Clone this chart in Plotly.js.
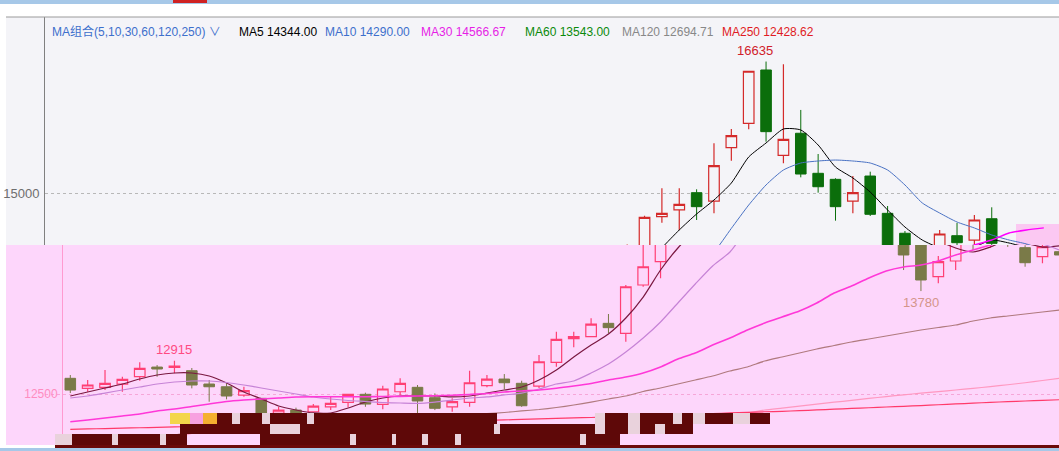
<!DOCTYPE html>
<html>
<head>
<meta charset="utf-8">
<script src="https://cdn.plot.ly/plotly-3.0.1.min.js"></script>
<style>html,body{margin:0;padding:0;background:#fff;}#chart{width:1059px;height:451px;}</style>
</head>
<body>
<div id="chart"></div>
<script>
// ---- data ----
const idx = [0,1,2,3,4,5,6,7,8,9,10,11,12,13,14,15,16,17,18,19,20,21,22,23,24,25,26,27,28,29,30,31,32,33,34,35,36,37,38,39,40,41,42,43,44,45,46,47,48,49,50,51,52,53,54,55,56,57];
const openV  = [12695,12570,12583,12624,12715,12835,12832,12790,12624,12590,12487,12446,12260,12300,12279,12341,12396,12496,12371,12528,12583,12454,12341,12396,12603,12686,12633,12599,12894,13188,13213,13379,13255,13856,14146,14705,14789,15004,14900,15564,15867,16530,15469,15743,15245,15170,14900,15211,14747,14499,13961,14154,14469,14415,14680,14320,14208,14270];
const highV  = [12736,12674,12798,12715,12895,12860,12915,12823,12674,12633,12590,12450,12340,12330,12375,12475,12500,12516,12603,12695,12612,12508,12446,12790,12736,12748,12665,12985,13275,13275,13441,13495,13856,14360,14718,15058,15058,15046,15618,15796,16518,16635,16600,16033,15485,15183,15211,15265,14838,14527,14216,14540,14627,14726,14822,14350,14360,14300];
const lowV   = [12512,12528,12549,12528,12665,12715,12757,12570,12404,12434,12466,12217,12180,12200,12270,12300,12334,12341,12309,12487,12259,12300,12279,12341,12583,12558,12340,12574,12839,13081,13209,13255,13150,13834,13939,14631,14540,14664,14747,15402,15792,15638,15369,15195,15004,14656,14747,14714,14042,13780,13877,14042,14291,14316,14330,14083,14125,14200];
const closeV = [12549,12612,12633,12683,12819,12811,12848,12612,12590,12475,12541,12259,12300,12240,12350,12384,12496,12375,12562,12633,12413,12322,12404,12640,12686,12640,12354,12901,13180,13213,13370,13325,13834,14083,14698,14747,14859,14830,15340,15713,16514,15763,15668,15236,15078,14830,15004,14735,14229,13918,14146,14490,14382,14664,14374,14133,14333,14229];

const ma5   = [12475,12525,12575,12624,12687,12736,12761,12761,12724,12637,12525,12440,12351,12301,12264,12264,12326,12400,12450,12475,12475,12475,12463,12475,12512,12550,12587,12674,12798,12960,13109,13246,13445,13706,14042,14316,14540,14739,14913,15124,15448,15622,15796,15784,15597,15323,15187,15012,14789,14577,14415,14316,14266,14328,14415,14378,14328,14344];
const ma10  = [12450,12475,12512,12550,12587,12624,12649,12662,12662,12643,12612,12575,12537,12500,12463,12438,12419,12407,12394,12388,12384,12400,12425,12450,12463,12488,12512,12562,12624,12662,12761,12873,13022,13196,13396,13632,13868,14092,14266,14560,14850,15100,15286,15373,15398,15410,15398,15373,15286,15100,14876,14751,14639,14565,14478,14415,14366,14290];
const ma30  = [12155,12177,12201,12226,12251,12289,12313,12344,12376,12407,12425,12438,12450,12463,12466,12466,12466,12466,12469,12471,12475,12478,12484,12494,12506,12525,12537,12550,12571,12599,12631,12674,12711,12761,12836,12935,13010,13109,13196,13296,13383,13458,13532,13632,13756,13843,13943,14030,14080,14104,14154,14229,14291,14353,14415,14502,14540,14566.67];
const ma60  = [11960,11965,11970,11975,11980,11985,11990,12020,12045,12065,12085,12100,12115,12130,12145,12160,12175,12190,12200,12212,12222,12232,12241,12249,12257,12270,12289,12307,12332,12363,12400,12438,12475,12531,12575,12624,12674,12724,12786,12836,12910,12960,13010,13060,13103,13147,13184,13221,13259,13296,13327,13358,13408,13445,13470,13495,13520,13543];
const ma120 = [11930,11932,11934,11936,11938,11940,11942,12010,12015,12020,12025,12030,12035,12040,12045,12050,12055,12060,12064,12068,12072,12076,12080,12084,12088,12092,12096,12100,12104,12108,12112,12116,12120,12124,12128,12132,12140,12170,12215,12262,12301,12325,12350,12375,12398,12420,12445,12468,12490,12510,12530,12550,12570,12592,12615,12640,12668,12694.71];
const ma250 = [12061,12065,12070,12075,12080,12085,12090,12095,12100,12104,12108,12112,12117,12121,12125,12130,12135,12139,12144,12148,12152,12157,12162,12167,12172,12178,12184,12190,12196,12202,12208,12215,12222,12229,12236,12243,12250,12257,12264,12271,12279,12284,12293,12302,12311,12320,12329,12338,12347,12356,12366,12376,12386,12396,12405,12413,12421,12428.62];

const maNames  = ['MA5','MA10','MA30','MA60','MA120','MA250'];
const maSeries = [ma5, ma10, ma30, ma60, ma120, ma250];
const legendTitle = 'MA组合(5,10,30,60,120,250)';

// ---- style ----
const W = 1059, H = 451, ML = 45, MT = 17, MB = 4;
const PW = W - ML, PH = H - MT - MB;
const px = p => (p - ML) / PW;          // pixel -> paper x
const py = p => (H - MB - p) / PH;      // pixel -> paper y
const upColors  = ['#000000','#4a72c4','#ff00ff','#1a8a1a','#9a9a9a','#e80000'];
const lowColors = ['#7a1840','#c683d6','#ff38d8','#b07a7e','#ff98c0','#ff3a6a'];
const legColors = ['#000000','#3d6fcc','#e61ee6','#0a8a0a','#888888','#e01b24'];
const splitPaper = py(245);
const candleStep = 17.36;
const shiftUnits = 16 / candleStep;
const x0 = -9.3 / candleStep, x1 = x0 + PW / candleStep;

const traces = [];
traces.push({type:'candlestick', x: idx, open: openV, high: highV, low: lowV, close: closeV,
  xaxis:'x', yaxis:'y', hoverinfo:'skip', showlegend:false, whiskerwidth:0,
  increasing:{line:{color:'#d42a2a', width:1.2}, fillcolor:'#f4f4f8'},
  decreasing:{line:{color:'#0b6e0b', width:1}, fillcolor:'#0b6e0b'}});
traces.push({type:'candlestick', x: idx, open: openV, high: highV, low: lowV, close: closeV,
  xaxis:'x2', yaxis:'y2', hoverinfo:'skip', showlegend:false, whiskerwidth:0,
  increasing:{line:{color:'#ff3f74', width:1.2}, fillcolor:'#fdd6fb'},
  decreasing:{line:{color:'#7a7a48', width:1}, fillcolor:'#7a7a48'}});
maSeries.forEach((s, k) => {
  traces.push({type:'scatter', mode:'lines', x: idx, y: s, xaxis:'x', yaxis:'y',
    line:{color: upColors[k], width: k===2?1.4:1, shape:'spline', smoothing:0.6}, hoverinfo:'skip', showlegend:false});
  traces.push({type:'scatter', mode:'lines', x: idx, y: s, xaxis:'x2', yaxis:'y2',
    line:{color: lowColors[k], width: k===2?1.6:1.2, shape:'spline', smoothing:0.6}, hoverinfo:'skip', showlegend:false});
});

const yv = p => 15000 - (p - 193) * (1000 / 80.4);
const band = (a, b, top, bot, col) => ({type:'rect', xref:'paper', yref:'paper', x0:px(a), x1:px(b), y0:py(bot), y1:py(top), fillcolor: col || '#5e0808', line:{width:0}});

const shapes = [
  Object.assign(band(6, W, 17, 245, '#f4f4f8'), {layer:'below'}),
  Object.assign(band(6, W, 245, 445, '#fdd6fb'), {layer:'below'}),
  Object.assign(band(1016, W, 224, 245, '#fbc8f2'), {layer:'below'}),
  {type:'line', xref:'paper', yref:'paper', x0:px(6), x1:px(W), y0:py(17), y1:py(17), line:{color:'#9a9a9a', width:1}},
  band(0, W, -2, 4, '#a6c8e8'),
  band(173, 207, -2, 3, '#cf2222'),
  band(0, W, 448, 453, '#a6c8e8'),
  band(55, W, 445, 448, '#6a0a0a'),
  // glitch bands at the bottom
  band(217, 497, 413, 424),
  band(170, 190, 413, 424, '#f3d64a'),
  band(190, 203, 413, 424, '#f7a0e0'),
  band(203, 217, 413, 424, '#f5b030'),
  band(595, 693, 413, 424),
  band(705, 770, 413, 424),
  band(180, 693, 424, 434),
  band(55, 187, 434, 445),
  band(260, 620, 434, 445)
];
// light checker patches inside the glitch bands
[[55,72,434,445],[112,118,434,445],[160,166,434,445],[232,240,413,424],[262,270,413,424],[270,300,424,434],[307,314,413,424],[350,356,434,445],[392,396,434,445],[422,428,434,445],[455,461,434,445],[494,500,424,434],[580,586,434,445],[595,605,413,434],[628,640,413,434],[655,665,424,434],[673,682,413,424],[693,705,413,424],[733,750,413,424]].forEach(r => {
  shapes.push(band(r[0], r[1], r[2], r[3], '#e9d2dc'));
});

const font = 'Liberation Sans, Arial, Noto Sans CJK SC, sans-serif';
const annotations = [];
const legX = [50, 237, 323, 419, 523, 620, 720];
annotations.push({xref:'paper', yref:'paper', x:px(legX[0]), y:py(32), xanchor:'left', yanchor:'middle', showarrow:false,
  text: legendTitle + ' ∨', font:{family:font, size:12, color:'#3d6fcc'}});
maNames.forEach((n, k) => {
  const s = maSeries[k];
  annotations.push({xref:'paper', yref:'paper', x:px(legX[k+1]), y:py(32), xanchor:'left', yanchor:'middle', showarrow:false,
    text: n + ' ' + s[s.length-1].toFixed(2), font:{family:font, size:12, color: legColors[k]}});
});
// max / min labels
const argMax = (arr, a, b) => { let m = a; for (let i = a; i <= b; i++) if (arr[i] > arr[m]) m = i; return m; };
const argMin = (arr, a, b) => { let m = a; for (let i = a; i <= b; i++) if (arr[i] < arr[m]) m = i; return m; };
const hiIdx = argMax(highV, 30, 57);
annotations.push({xref:'x', yref:'y', x: idx[hiIdx], y: highV[hiIdx], xanchor:'center', yanchor:'bottom', yshift:2, xshift:-11, showarrow:false,
  text: String(highV[hiIdx]), font:{family:font, size:13, color:'#d0202a'}});
const hi2 = argMax(highV, 0, 20);
annotations.push({xref:'x2', yref:'y2', x: idx[hi2], y: highV[hi2], xanchor:'center', yanchor:'bottom', yshift:2, showarrow:false,
  text: String(highV[hi2]), font:{family:font, size:13, color:'#ff4a82'}});
const loIdx = argMin(lowV, 40, 57);
annotations.push({xref:'x2', yref:'y2', x: idx[loIdx], y: lowV[loIdx], xanchor:'center', yanchor:'top', yshift:-2, showarrow:false,
  text: String(lowV[loIdx]), font:{family:font, size:13, color:'#d4958a'}});

const layout = {
  width: W, height: H,
  margin:{l:ML, r:0, t:MT, b:MB, pad:0},
  paper_bgcolor:'#ffffff', plot_bgcolor:'rgba(0,0,0,0)',
  showlegend:false, boxgap:0.13,
  font:{family:font},
  xaxis:{domain:[0,1], anchor:'y', range:[x0, x1], showticklabels:false, showgrid:false, zeroline:false, showline:false, ticks:'', rangeslider:{visible:false}, fixedrange:true},
  xaxis2:{domain:[0,1], anchor:'y2', range:[x0 - shiftUnits, x1 - shiftUnits], showticklabels:false, showgrid:false, zeroline:false, showline:false, ticks:'', rangeslider:{visible:false}, fixedrange:true},
  yaxis:{domain:[splitPaper, 1], anchor:'x', range:[yv(245), yv(17)], tickvals:[15000], ticktext:['15000'],
    showgrid:true, gridcolor:'#b8b8b8', griddash:'dot', gridwidth:1, zeroline:false,
    showline:true, linecolor:'#808080', linewidth:1, ticks:'', ticklabelstandoff:2,
    tickfont:{family:font, size:13, color:'#6e6e6e'}, fixedrange:true},
  yaxis2:{domain:[0, splitPaper], anchor:'free', position: 17/PW, range:[yv(447), yv(245)], tickvals:[12500], ticktext:['12500'],
    showgrid:true, gridcolor:'#f6a6d8', griddash:'dot', gridwidth:1, zeroline:false,
    showline:true, linecolor:'#ff9ad0', linewidth:1, ticks:'', ticklabelstandoff:2,
    tickfont:{family:font, size:12, color:'#ff8cc0'}, fixedrange:true},
  shapes: shapes,
  annotations: annotations
};

Plotly.newPlot('chart', traces, layout, {staticPlot:true, displayModeBar:false});
</script>
</body>
</html>
